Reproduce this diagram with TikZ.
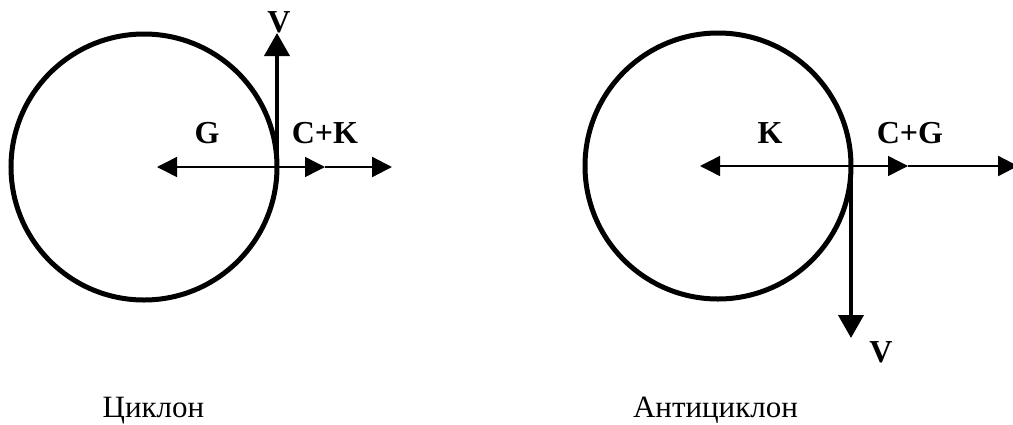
\documentclass[tikz,border=0pt]{standalone}
\usepackage{fontspec}
\setmainfont{Liberation Serif}
\usetikzlibrary{arrows.meta}

\begin{document}
\begin{tikzpicture}[
            x=1pt, y=-1pt,
            vortex/.style={
                circle,
                draw,
                line width=5pt,
                minimum size=266pt,
                inner sep=0pt,
                outer sep=0pt
            },
            force/.style={
                line width=1.5pt,
                -{Triangle[length=20pt, width=20pt]}
            },
            speed/.style={
                line width=4pt,
                -{Triangle[length=23pt, width=25pt]}
            },
            label/.style={
                font=\fontsize{32}{38}\selectfont\bfseries,
                inner sep=0pt
            },
            caption/.style={
                font=\fontsize{31}{37}\selectfont,
                inner sep=0pt,
                anchor=base
            }
        ]

            \useasboundingbox (0, 0) rectangle (1013, 424);

            % cyclone
            \node[vortex] (cyc) at (144, 167) {};
            \coordinate (g) at (157, 167);
            \coordinate (ck1) at (325, 167);
            \coordinate (ck2) at (392, 167);
            \coordinate (vc) at (cyc.east |- 0,33);

            \draw[force] (cyc.east) -- (g);
            \draw[force] (cyc.east) -- (ck1);
            \draw[force, line width=2.3pt] (ck1) -- (ck2);
            \draw[speed] (cyc.east) -- (vc);

            \node[label] (lg) at (207, 133) {G};
            \node[label] (lck) at (325, 133) {C+K};
            \node[label] (lvc) at (279, 22) {V};
            \node[caption] (tc) at (153.5, 417) {Циклон};

            % anticyclone
            \node[vortex] (anti) at (718, 166) {};
            \coordinate (k) at (700, 166);
            \coordinate (cg1) at (908, 166);
            \coordinate (cg2) at (1018, 166);
            \coordinate (va) at (anti.east |- 0,338);

            \draw[force] (anti.east) -- (k);
            \draw[force] (anti.east) -- (cg1);
            \draw[force, line width=2.3pt] (cg1) -- (cg2);
            \draw[speed] (anti.east) -- (va);

            \node[label] (lk) at (770, 133) {K};
            \node[label] (lcg) at (910, 133) {C+G};
            \node[label] (lva) at (881, 352) {V};
            \node[caption] (ta) at (715.5, 417) {Антициклон};

        \end{tikzpicture}
\end{document}
